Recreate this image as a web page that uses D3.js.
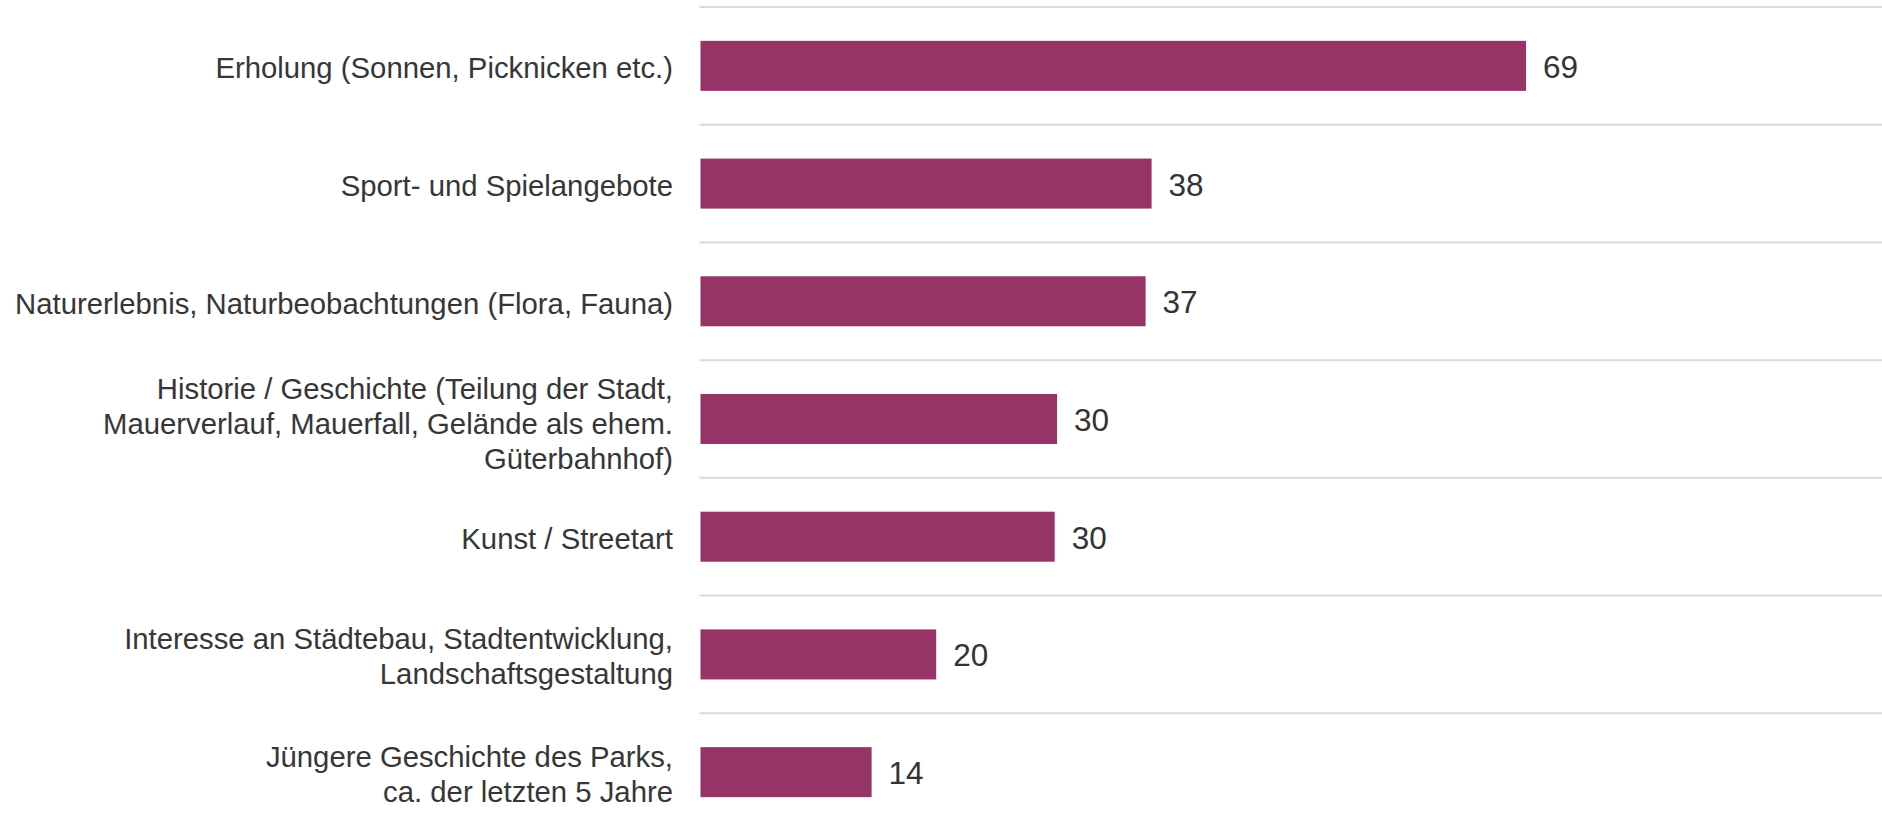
<!DOCTYPE html>
<html>
<head>
<meta charset="utf-8">
<script src="https://cdn.jsdelivr.net/npm/d3@7"></script>
<style>
  html, body { margin: 0; padding: 0; background: #ffffff; }
  svg { display: block; }
  text { font-family: "Liberation Sans", Arial, sans-serif; }
</style>
</head>
<body>
<div id="chart"></div>
<script>
const categories = [
  "Erholung (Sonnen, Picknicken etc.)",
  "Sport- und Spielangebote",
  "Naturerlebnis, Naturbeobachtungen (Flora, Fauna)",
  "Historie / Geschichte (Teilung der Stadt,\nMauerverlauf, Mauerfall, Gelände als ehem.\nGüterbahnhof)",
  "Kunst / Streetart",
  "Interesse an Städtebau, Stadtentwicklung,\nLandschaftsgestaltung",
  "Jüngere Geschichte des Parks,\nca. der letzten 5 Jahre"
];
const values = [69, 37.7, 37.2, 29.8, 29.6, 19.7, 14.3];

const width = 1882, height = 828;
const svg = d3.select("#chart").append("svg")
  .attr("width", width).attr("height", height);

const y = d3.scaleBand()
  .domain(categories)
  .range([7, 831])
  .paddingInner(0.575)
  .paddingOuter(0.2875);

const x = d3.scaleLinear()
  .domain([0, 100])
  .range([700.5, 1897]);

const step = y.step();
const bandStart = c => y(c) - step * y.paddingInner() / 2;

// gridlines at band boundaries
const gridYs = categories.map(c => bandStart(c));
svg.append("g").selectAll("line")
  .data(gridYs)
  .join("line")
  .attr("x1", x(0) - 1)
  .attr("x2", width)
  .attr("y1", d => d)
  .attr("y2", d => d)
  .attr("stroke", "#d9d9d9")
  .attr("stroke-width", 2);

// bars
svg.append("g").selectAll("rect")
  .data(categories)
  .join("rect")
  .attr("x", x(0))
  .attr("y", c => y(c))
  .attr("width", (c, i) => x(values[i]) - x(0))
  .attr("height", y.bandwidth())
  .attr("fill", "#963468");

// value labels
svg.append("g").selectAll("text")
  .data(categories)
  .join("text")
  .attr("x", (c, i) => x(values[i]) + 17)
  .attr("y", c => y(c) + y.bandwidth() / 2 + 1)
  .attr("dominant-baseline", "central")
  .attr("font-size", 31.5)
  .attr("fill", "#333333")
  .text((c, i) => d3.format(".0f")(values[i]));

// category labels
const lineH = 35;
const lab = svg.append("g").selectAll("text")
  .data(categories)
  .join("text")
  .attr("x", 673)
  .attr("y", c => y(c) + y.bandwidth() / 2 + 1.5)
  .attr("text-anchor", "end")
  .attr("dominant-baseline", "central")
  .attr("font-size", 29.3)
  .attr("fill", "#363636");

lab.each(function(c) {
  const lines = c.split("\n");
  const t = d3.select(this);
  const cy = +t.attr("y") + (lines.length > 2 ? 2 : 0);
  lines.forEach((l, k) => {
    t.append("tspan")
      .attr("x", 673)
      .attr("y", cy + (k - (lines.length - 1) / 2) * lineH)
      .attr("dominant-baseline", "central")
      .text(l);
  });
});
</script>
</body>
</html>
